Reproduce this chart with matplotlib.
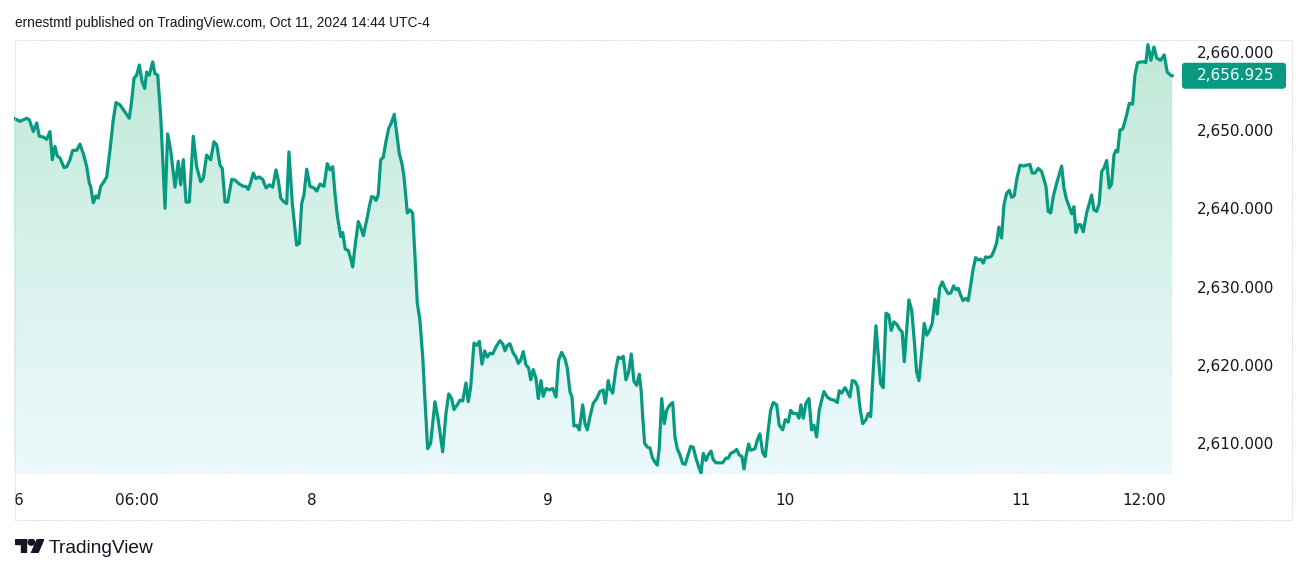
import matplotlib

matplotlib.use("Agg")
import matplotlib.pyplot as plt
import matplotlib.transforms as mtransforms
import numpy as np
from matplotlib.colors import LinearSegmentedColormap
from matplotlib.patches import BoxStyle, Circle, FancyBboxPatch, Polygon, Rectangle

# hours since the session open (Sun 18:00 ET), trading-time axis
HOURS = [
    0.0, 0.58, 1.24, 1.49, 1.88, 2.21, 2.46, 2.85, 3.18, 3.5,
    3.73, 3.99, 4.21, 4.48, 4.87, 5.13, 5.45, 5.71, 6.1, 6.42,
    6.74, 7.08, 7.33, 7.46, 7.72, 7.98, 8.2, 8.44, 8.7, 9.02,
    9.34, 9.66, 9.93, 10.32, 10.8, 11.22, 11.46, 11.68, 11.94, 12.2,
    12.46, 12.72, 12.91, 13.17, 13.5, 13.72, 13.99, 14.28, 14.7, 14.95,
    15.25, 15.67, 15.99, 16.22, 16.48, 16.74, 17.06, 17.45, 17.78, 18.17,
    18.42, 18.75, 19.14, 19.46, 19.73, 20.05, 20.27, 20.54, 20.8, 21.19,
    21.51, 21.93, 22.32, 22.58, 22.8, 23.04, 23.29, 23.55, 23.87, 24.2,
    24.53, 24.85, 25.18, 25.5, 25.72, 25.96, 26.28, 26.54, 26.76, 27.09,
    27.51, 27.77, 28.0, 28.22, 28.49, 28.81, 29.2, 29.46, 29.78,
    30.17, 30.49, 30.75, 31.02, 31.24, 31.46, 31.8, 31.99, 32.24, 32.54,
    32.77, 32.96, 33.19, 33.51, 33.74, 34.0, 34.33, 34.58, 34.81, 35.04,
    35.23, 35.45, 35.69, 35.94, 36.2, 36.47, 36.72, 37.01, 37.25, 37.5,
    37.76, 37.96, 38.28, 38.54, 38.8, 39.03, 39.25, 39.51, 39.78, 40.0,
    40.26, 40.55, 40.97, 41.29, 41.72, 42.04, 42.31, 42.6, 42.82, 43.14, 43.41,
    43.67, 43.99, 44.21, 44.45, 44.77, 45.03, 45.29, 45.55, 45.81, 46.06,
    46.33, 46.59, 46.91, 47.3, 47.56, 47.79, 48.01, 48.27, 48.59, 48.86,
    49.08, 49.31, 49.57, 49.83, 50.09, 50.29, 50.54, 50.8, 51.03, 51.29,
    51.51, 51.78, 52.1, 52.43, 52.75, 53.01, 53.3, 53.62, 53.85, 54.11,
    54.31, 54.5, 54.76, 55.02, 55.35, 55.57, 55.8, 56.06, 56.38, 56.71,
    57.03, 57.35, 57.55, 57.84,
    58.0, 58.27, 58.56, 58.81, 59.05, 59.3, 59.56, 59.82, 60.08, 60.34,
    60.6, 60.86, 61.05, 61.19, 61.38, 61.64, 61.9, 62.12, 62.38, 62.61,
    62.8, 63.04, 63.29, 63.52, 63.84, 64.11, 64.33, 64.56, 64.82, 65.08,
    65.33, 65.6, 65.86, 66.11, 66.37, 66.64, 66.86, 67.09, 67.35, 67.57,
    67.84, 68.06, 68.32, 68.64, 68.97, 69.29, 69.52, 69.75, 70.07, 70.34,
    70.59, 70.85, 71.05, 71.24, 71.5, 71.7,
    72.12, 72.34, 72.6, 72.87, 73.12, 73.41, 73.64, 73.9, 74.23, 74.48,
    74.81, 75.07, 75.36, 75.59, 75.84, 76.17, 76.4, 76.59, 76.82, 77.08,
    77.37, 77.63, 77.86, 78.12, 78.37, 78.61, 78.83, 79.15, 79.48, 79.81,
    80.13, 80.32, 80.55, 80.88, 81.1, 81.36, 81.59, 81.85, 82.11, 82.34,
    82.6, 82.92, 83.14, 83.38, 83.63, 83.89, 84.12, 84.35, 84.6, 84.87,
    85.13, 85.38, 85.64, 85.91, 86.23,
    86.45, 86.65, 86.88, 87.1, 87.37, 87.62, 87.85, 88.08, 88.34, 88.59,
    88.85, 89.15, 89.37, 89.63, 89.86, 90.09, 90.35, 90.61, 90.93, 91.19,
    91.45, 91.68, 91.9, 92.14, 92.36, 92.62, 92.87, 93.14, 93.36, 93.6,
    93.85, 94.11, 94.34, 94.57, 94.82, 95.15, 95.41, 95.64, 95.86, 96.12,
    96.35, 96.61, 96.87, 97.1, 97.35, 97.61, 97.91, 98.23, 98.56, 98.88,
    99.1, 99.37, 99.69, 100.02,
    100.44, 100.66, 100.9, 101.15, 101.48, 101.73, 101.97, 102.19, 102.45, 102.71,
    102.94, 103.16, 103.36, 103.58, 103.82, 104.07, 104.4, 104.65, 104.89, 105.11,
    105.37, 105.62, 105.86, 106.08, 106.35, 106.6, 106.83, 107.06, 107.25, 107.42,
    107.64, 107.9, 108.13, 108.36, 108.55, 108.87, 109.1, 109.36, 109.75, 109.98,
    110.17, 110.36, 110.66, 110.95, 111.21, 111.6, 111.95, 112.24, 112.57, 112.73,
]
PRICES = [
    2651.5, 2651.1, 2651.5, 2651.3, 2649.8, 2650.9, 2649.2, 2649.1, 2648.8, 2649.8,
    2646.2, 2647.9, 2646.7, 2646.4, 2645.2, 2645.3, 2646.2, 2647.4, 2647.4, 2648.2,
    2647.0, 2645.3, 2643.2, 2642.8, 2640.7, 2641.6, 2641.3, 2642.8, 2643.3, 2644.0,
    2647.4, 2651.3, 2653.5, 2653.2, 2652.3, 2651.5, 2653.8, 2656.6, 2657.0, 2658.3,
    2656.2, 2655.3, 2657.4, 2657.0, 2658.7, 2657.2, 2657.0, 2651.7, 2640.0, 2649.5,
    2647.4, 2642.7, 2646.0, 2643.0, 2646.2, 2640.8, 2640.8, 2649.2, 2645.3, 2643.4,
    2643.8, 2646.8, 2646.2, 2648.5, 2648.1, 2645.5, 2645.1, 2640.8, 2640.8, 2643.7,
    2643.6, 2643.1, 2642.8, 2642.8, 2642.4, 2643.3, 2644.5, 2643.8, 2644.0, 2643.7,
    2642.6, 2643.0, 2642.7, 2644.9, 2643.6, 2641.3, 2640.8, 2640.6, 2647.2, 2640.6,
    2635.3, 2635.5, 2640.6, 2641.7, 2645.0, 2642.8, 2642.6, 2642.2, 2643.1,
    2642.8, 2645.7, 2644.9, 2645.3, 2641.9, 2639.1, 2636.4, 2636.9, 2634.8, 2634.6,
    2633.6, 2632.5, 2635.1, 2638.3, 2637.6, 2636.5, 2638.5, 2640.2, 2641.5, 2641.4,
    2641.0, 2641.7, 2646.2, 2646.5, 2648.5, 2650.2, 2650.9, 2652.0, 2649.6, 2647.0,
    2645.7, 2644.0, 2639.4, 2639.8, 2639.4, 2633.8, 2627.9, 2625.7, 2621.0, 2615.5,
    2609.3, 2610.0, 2615.3, 2613.0, 2608.9, 2613.8, 2616.3, 2615.7, 2614.3, 2614.9, 2615.5,
    2615.4, 2617.7, 2615.3, 2617.2, 2622.8, 2622.5, 2623.0, 2620.1, 2621.8, 2621.0,
    2621.5, 2621.4, 2622.3, 2623.1, 2622.7, 2621.8, 2622.5, 2622.7, 2621.5, 2621.0,
    2620.2, 2620.6, 2621.7, 2620.0, 2619.6, 2618.1, 2619.4, 2618.3, 2615.7, 2618.0,
    2616.0, 2617.0, 2616.8, 2617.0, 2615.9, 2620.6, 2621.6, 2620.8, 2619.6, 2616.6,
    2615.9, 2612.2, 2612.3, 2611.7, 2614.9, 2612.5, 2611.7, 2613.4, 2615.1, 2615.7,
    2616.6, 2616.8, 2615.1, 2618.0,
    2617.0, 2616.4, 2619.3, 2621.0, 2620.8, 2621.1, 2618.1, 2619.1, 2621.4, 2617.9,
    2617.4, 2618.8, 2616.6, 2613.4, 2610.0, 2609.5, 2609.4, 2608.2, 2607.6, 2607.2,
    2609.3, 2615.7, 2612.5, 2614.2, 2614.9, 2615.2, 2610.8, 2609.3, 2608.5, 2607.4,
    2607.3, 2608.5, 2609.6, 2609.5, 2608.1, 2607.0, 2606.2, 2608.7, 2607.8, 2608.5,
    2609.0, 2607.9, 2607.5, 2607.5, 2607.5, 2608.1, 2608.1, 2608.7, 2608.9, 2609.2,
    2608.5, 2608.3, 2606.7, 2608.3, 2609.9, 2609.1,
    2609.3, 2610.4, 2611.2, 2608.8, 2608.3, 2611.7, 2614.2, 2615.2, 2614.9, 2612.3,
    2611.7, 2613.0, 2612.7, 2614.2, 2613.8, 2613.8, 2613.2, 2614.9, 2613.2, 2615.1,
    2615.7, 2611.7, 2612.3, 2610.8, 2614.2, 2615.5, 2616.6, 2615.9, 2615.6, 2615.5,
    2615.2, 2616.7, 2616.4, 2617.1, 2616.6, 2615.9, 2618.0, 2617.9, 2617.2, 2614.5,
    2612.5, 2613.0, 2613.8, 2613.4, 2619.3, 2625.0, 2621.3, 2617.6, 2617.1, 2626.6,
    2626.4, 2624.4, 2625.5, 2625.2, 2624.5,
    2624.2, 2620.4, 2624.5, 2628.3, 2627.0, 2623.2, 2619.1, 2618.0, 2621.5, 2625.3,
    2623.8, 2624.5, 2625.3, 2628.4, 2626.5, 2629.8, 2630.6, 2629.8, 2629.1, 2629.2,
    2630.1, 2629.6, 2629.8, 2628.9, 2628.2, 2628.5, 2628.2, 2630.4, 2632.3, 2633.7,
    2633.4, 2633.5, 2633.0, 2633.8, 2633.7, 2633.9, 2634.7, 2635.6, 2637.6, 2636.2,
    2640.4, 2641.9, 2642.3, 2641.4, 2641.6, 2643.8, 2645.5, 2645.4, 2645.5, 2645.6,
    2644.5, 2644.5, 2645.1, 2644.7,
    2642.8, 2639.6, 2639.4, 2641.5, 2643.2, 2644.3, 2645.4, 2642.6, 2641.1, 2640.2,
    2639.3, 2640.2, 2636.9, 2637.9, 2637.9, 2637.0, 2639.4, 2640.6, 2641.7, 2639.8,
    2639.6, 2640.6, 2644.7, 2645.1, 2646.1, 2642.6, 2643.1, 2646.8, 2647.4, 2647.2,
    2650.0, 2650.1, 2651.1, 2652.3, 2653.4, 2653.3, 2657.0, 2658.6, 2658.7, 2658.7,
    2658.6, 2660.9, 2658.9, 2660.6, 2659.2, 2658.9, 2659.6, 2657.4, 2657.0, 2656.925,
]
LAST_PRICE = PRICES[-1]

TIME_TICKS = [0, 12, 29, 52, 75, 98, 110]
TIME_LABELS = ["6", "06:00", "8", "9", "10", "11", "12:00"]
PRICE_TICKS = [2610, 2620, 2630, 2640, 2650, 2660]

HEADER = "ernestmtl published on TradingView.com, Oct 11, 2024 14:44 UTC-4"

LINE_COLOR = "#089981"
TEXT_COLOR = "#131722"
FRAME_COLOR = "#cfd3de"
AREA_COLORS = ["#bfe8d5", "#d8f2ec", "#edf9fc"]

W, H = 1308, 574
PANE = (14, 40, 1175, 474)  # left, top, right, bottom in pixels
X_RANGE = (0.0, 113.0)
Y_RANGE = (2606.07, 2661.49)


def px_rect(left, top, right, bottom):
    return [left / W, 1 - bottom / H, (right - left) / W, (bottom - top) / H]


fig = plt.figure(figsize=(W / 100, H / 100), dpi=100)
fig.patch.set_facecolor("white")

ax = fig.add_axes(px_rect(*PANE))
ax.set_xlim(*X_RANGE)
ax.set_ylim(*Y_RANGE)
for side in ax.spines.values():
    side.set_visible(False)

# gradient area under the line
cmap = LinearSegmentedColormap.from_list("area", AREA_COLORS)
grad = np.linspace(0, 1, 256).reshape(-1, 1)
im = ax.imshow(
    grad,
    cmap=cmap,
    aspect="auto",
    extent=(X_RANGE[0], X_RANGE[1], Y_RANGE[0], Y_RANGE[1]),
    zorder=1,
    interpolation="bilinear",
)
verts = list(zip(HOURS, PRICES)) + [(HOURS[-1], Y_RANGE[0]), (HOURS[0], Y_RANGE[0])]
area = Polygon(verts, closed=True, facecolor="none", edgecolor="none")
ax.add_patch(area)
im.set_clip_path(area)

ax.plot(HOURS, PRICES, color=LINE_COLOR, lw=2.3, solid_joinstyle="round", zorder=3)

ax.set_xticks(TIME_TICKS, TIME_LABELS)
ax.xaxis.get_ticklabels()[0].set_horizontalalignment("left")
ax.tick_params(axis="x", length=0, pad=14, labelsize=11, colors=TEXT_COLOR)

ax.yaxis.tick_right()
ax.set_yticks(PRICE_TICKS, [f"{v:,.3f}" for v in PRICE_TICKS])
ax.tick_params(axis="y", length=0, pad=15.8, labelsize=11, colors=TEXT_COLOR)

# last value badge on the price scale
pane_w = PANE[2] - PANE[0]
pane_h = PANE[3] - PANE[1]
y_per_px = (Y_RANGE[1] - Y_RANGE[0]) / pane_h
badge_tr = mtransforms.blended_transform_factory(ax.transAxes, ax.transData)
badge = FancyBboxPatch(
    ((1182 - PANE[0]) / pane_w, LAST_PRICE - 13 * y_per_px),
    104 / pane_w,
    26 * y_per_px,
    boxstyle=BoxStyle("Round", pad=0, rounding_size=3 / pane_w),
    mutation_aspect=y_per_px * pane_w,
    transform=badge_tr,
    facecolor=LINE_COLOR,
    edgecolor="none",
    clip_on=False,
    zorder=5,
)
ax.add_patch(badge)
ax.text(
    (1197 - PANE[0]) / pane_w,
    LAST_PRICE,
    f"{LAST_PRICE:,.3f}",
    transform=badge_tr,
    ha="left",
    va="center",
    fontsize=11,
    color="white",
    zorder=6,
    clip_on=False,
)

# dotted outer frame
fig.add_artist(
    Rectangle(
        (15 / W, 1 - 520 / H),
        (1292 - 15) / W,
        (520 - 40) / H,
        transform=fig.transFigure,
        fill=False,
        edgecolor=FRAME_COLOR,
        linewidth=0.75,
        linestyle=(0, (1, 1)),
    )
)

fig.text(
    15 / W, 1 - 27 / H, HEADER,
    ha="left", va="baseline", fontsize=9.9, color=TEXT_COLOR, family="Liberation Sans",
)

# TradingView logo
logo = fig.add_axes(px_rect(15, 539, 44, 553))
logo.set_xlim(0, 35.5)
logo.set_ylim(22, 4)
logo.axis("off")
logo.add_patch(Polygon([(0, 4), (14, 4), (14, 22), (7, 22), (7, 11), (0, 11)], color=TEXT_COLOR))
logo.add_patch(Polygon([(20, 22), (28, 22), (35.5, 4), (27.5, 4)], color=TEXT_COLOR))
logo.add_patch(Circle((20, 8), 4, color=TEXT_COLOR))

fig.text(
    49 / W, 1 - 553 / H, "TradingView",
    ha="left", va="baseline", fontsize=13.8, color=TEXT_COLOR, family="Liberation Sans",
)

fig.savefig("out.png", dpi=100, facecolor="white")
